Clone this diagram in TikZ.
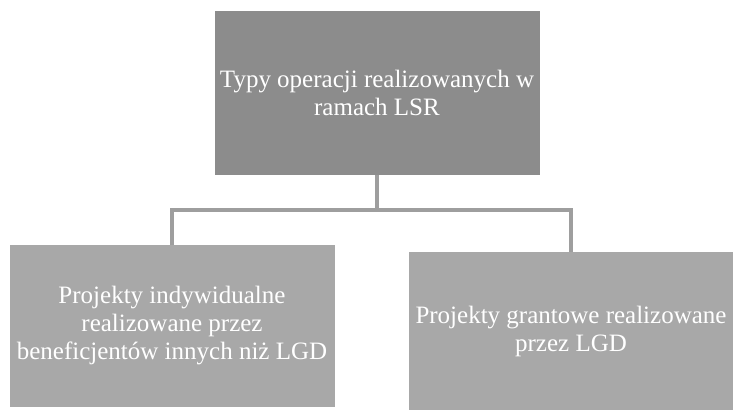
\documentclass[tikz,border=0pt]{standalone}
\usepackage{fontspec}
\setmainfont{Liberation Serif}
\begin{document}
\begin{tikzpicture}[x=1pt,y=-1pt,
  box/.style={inner sep=0pt,align=center,text=white,font=\fontsize{25}{28}\selectfont},
  link/.style={draw=black!38,line width=3.5pt}]

\useasboundingbox (0,0) rectangle (733,412);

\node [box,fill=black!45,minimum width=325pt,minimum height=163pt] at (377,93) (top) {Typy operacji realizowanych w\\ramach LSR};
\node [box,fill=black!34,minimum width=325pt,minimum height=162pt] at (172,326) (left) {Projekty indywidualne\\realizowane przez\\beneficjentów innych niż LGD};
\node [box,fill=black!34,minimum width=325pt,minimum height=158pt] at (571,331) (right) {Projekty grantowe realizowane\\przez LGD};

\coordinate (bus) at (377,210);

\draw [link] (top.south) -- (bus);
\draw [link] (left.north) |- (bus) -| (right.north);

\end{tikzpicture}
\end{document}
